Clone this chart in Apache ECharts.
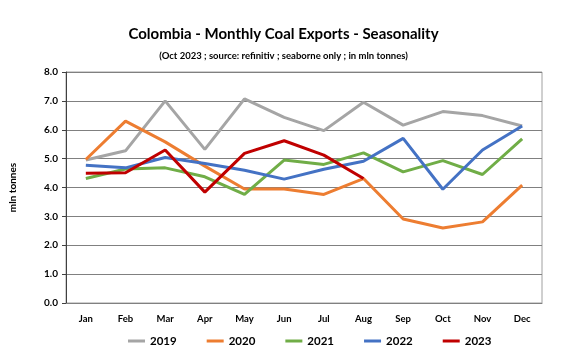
<!DOCTYPE html>
<html>
<head>
<meta charset="utf-8">
<script src="https://cdn.jsdelivr.net/npm/echarts@6/dist/echarts.min.js"></script>
<style>html,body{margin:0;padding:0;background:#fff;}#c{width:567px;height:362px;}</style>
</head>
<body>
<div id="c"></div>
<script>
var months = ['Jan','Feb','Mar','Apr','May','Jun','Jul','Aug','Sep','Oct','Nov','Dec'];
var y2019 = [4.95, 5.27, 7.0, 5.32, 7.07, 6.43, 5.97, 6.95, 6.16, 6.63, 6.49, 6.13];
var y2020 = [4.97, 6.30, 5.58, 4.74, 3.95, 3.95, 3.76, 4.31, 2.91, 2.60, 2.81, 4.08];
var y2021 = [4.31, 4.64, 4.68, 4.37, 3.76, 4.95, 4.80, 5.20, 4.54, 4.93, 4.45, 5.68];
var y2022 = [4.77, 4.68, 5.04, 4.83, 4.60, 4.29, 4.63, 4.91, 5.70, 3.94, 5.30, 6.13];
var y2023 = [4.49, 4.51, 5.30, 3.84, 5.18, 5.62, 5.12, 4.31];
var seriesNames = ['2019','2020','2021','2022','2023'];
var seriesData = [y2019, y2020, y2021, y2022, y2023];
var colors = ['#A5A5A5','#ED7D31','#70AD47','#4472C4','#C00000'];
var font = 'Lato, "Open Sans", sans-serif';

var chart = echarts.init(document.getElementById('c'));
chart.setOption({
  animation: false,
  color: colors,
  title: [{
    text: 'Colombia - Monthly Coal Exports - Seasonality',
    left: 'center', top: 22,
    textStyle: {fontFamily: font, fontWeight: 'bold', fontSize: 15, color: '#000'}
  }, {
    text: '(Oct 2023 ; source: refinitiv ; seaborne only ; in mln tonnes)',
    left: 'center', top: 46,
    textStyle: {fontFamily: font, fontWeight: 'bold', fontSize: 9.5, color: '#000'}
  }],
  grid: {left: 66, right: 25, top: 72, bottom: 59, show: true, borderColor: '#a0a0a0', borderWidth: 1},
  legend: {
    bottom: 10, left: 123, itemGap: 30, itemWidth: 17, itemHeight: 3,
    data: seriesNames.map(function(n){return {name:n, icon:'rect'};}),
    textStyle: {fontFamily: font, fontWeight: 'bold', fontSize: 11.5, color: '#000'}
  },
  xAxis: {
    type: 'category', data: months, boundaryGap: true,
    axisLine: {lineStyle: {color: '#808080'}},
    axisTick: {show: false},
    axisLabel: {fontFamily: font, fontWeight: 'bold', fontSize: 9.5, color: '#000', margin: 11}
  },
  yAxis: {
    type: 'value', min: 0, max: 8, interval: 1,
    name: 'mln tonnes', nameLocation: 'middle', nameGap: 48, nameRotate: 90,
    nameTextStyle: {fontFamily: font, fontWeight: 'bold', fontSize: 10, color: '#000'},
    axisLine: {show: true, lineStyle: {color: '#404040'}},
    axisTick: {show: true, length: 4, lineStyle: {color: '#404040'}},
    splitLine: {lineStyle: {color: '#808080'}},
    axisLabel: {fontFamily: font, fontWeight: 'bold', fontSize: 10, color: '#000', margin: 8,
      formatter: function(v){return v.toFixed(1);}}
  },
  series: seriesNames.map(function(n, i){
    return {name: n, type: 'line', data: seriesData[i], symbol: 'none',
      lineStyle: {width: 3, color: colors[i]}, itemStyle: {color: colors[i]}};
  })
});
</script>
</body>
</html>
